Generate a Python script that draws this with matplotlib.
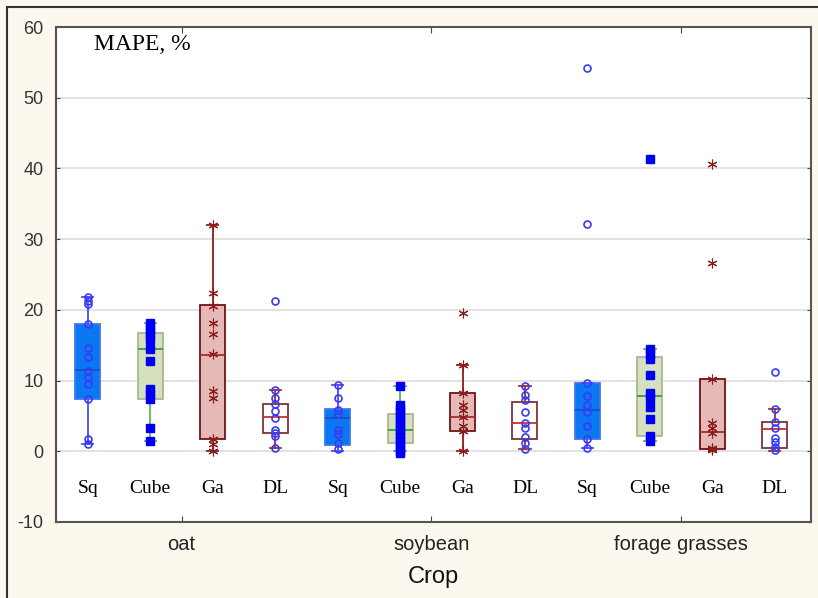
import numpy as np
import matplotlib.pyplot as plt
from matplotlib.patches import Rectangle

plt.rcParams['axes.unicode_minus'] = False

# crops and methods
crops = ['oat', 'soybean', 'forage grasses']
methods = ['Sq', 'Cube', 'Ga', 'DL']

# box stats: (whislo, q1, med, q3, whishi)
box_stats = [
    (1.1, 7.4, 11.5, 18.0, 21.8),   # oat Sq
    (1.5, 7.4, 14.5, 16.7, 18.2),   # oat Cube
    (0.0, 1.7, 13.6, 20.7, 32.0),   # oat Ga
    (0.4, 2.6, 4.8, 6.7, 8.7),      # oat DL
    (0.0, 0.9, 4.7, 6.0, 9.4),      # soybean Sq
    (0.0, 1.2, 3.0, 5.3, 9.3),      # soybean Cube
    (0.0, 2.8, 4.9, 8.3, 12.2),     # soybean Ga
    (0.3, 1.7, 4.0, 7.0, 9.3),      # soybean DL
    (0.4, 1.8, 5.8, 9.7, 9.7),      # forage Sq
    (1.5, 2.2, 7.8, 13.3, 14.5),    # forage Cube
    (0.3, 0.3, 2.7, 10.2, 10.2),    # forage Ga
    (0.1, 0.5, 3.1, 4.2, 6.0),      # forage DL
]

# individual points
points = [
    [21.8, 21.3, 20.8, 18.0, 14.6, 13.3, 11.3, 10.5, 9.5, 7.4, 1.8, 1.0],
    [18.2, 17.6, 17.0, 16.4, 15.8, 14.5, 12.8, 8.8, 8.1, 7.4, 3.3, 1.5],
    [32.0, 22.4, 20.6, 18.1, 16.6, 13.8, 8.5, 7.5, 1.8, 1.0, 0.0],
    [21.3, 8.7, 7.6, 6.7, 5.7, 4.7, 3.0, 2.6, 2.2, 0.4],
    [9.4, 7.6, 5.9, 5.3, 3.0, 2.5, 1.2, 0.3],
    [9.3, 6.5, 6.0, 5.5, 5.0, 4.5, 4.0, 3.5, 3.0, 2.5, 2.0, 1.5, 1.0, 0.5, 0.0, -0.3],
    [19.6, 12.2, 8.2, 6.6, 5.8, 4.9, 3.6, 2.8, 0.0],
    [9.3, 8.0, 7.3, 5.6, 4.0, 3.3, 2.0, 1.2, 0.3],
    [54.2, 32.2, 9.6, 7.8, 6.6, 5.6, 3.6, 1.8, 0.4],
    [41.3, 14.5, 13.8, 13.0, 10.8, 8.3, 7.5, 6.2, 4.5, 2.1, 1.5],
    [40.6, 26.6, 10.2, 4.0, 3.3, 2.6, 0.5, 0.3, 0.2],
    [11.2, 6.0, 4.1, 3.3, 1.9, 1.3, 0.6, 0.2],
]

# style per method
styles = {
    'Sq':   dict(fill='#0A78F2', edge='#3C78F0', med='#1C4FC8', whisk='#4A4AF5',
                 marker='o', mfc='none', mec='#3A3AF5', ms=5, mew=1.2),
    'Cube': dict(fill='#D6E0BE', edge='#A9B993', med='#3A9E3A', whisk='#5DB55D',
                 marker='s', mfc='#0000F5', mec='#0000F5', ms=5.5, mew=1.0),
    'Ga':   dict(fill='#E6B9B9', edge='#6E1515', med='#A82A2A', whisk='#8A1C1C',
                 marker=(6, 2, 0), mfc='#8A1C1C', mec='#8A1C1C', ms=7, mew=0.8),
    'DL':   dict(fill='white', edge='#7A3535', med='#C83030', whisk='#A03030',
                 marker='o', mfc='none', mec='#3A3AF5', ms=5, mew=1.2),
}

fig = plt.figure(figsize=(8.18, 5.98), dpi=100, facecolor='#FDF8EE')
ax = fig.add_axes([56 / 818, 1 - 522 / 598, (811 - 56) / 818, (522 - 27) / 598])

for i, st in enumerate(box_stats):
    m = methods[i % 4]
    s = styles[m]
    pos = i + 1
    stats = [dict(whislo=st[0], q1=st[1], med=st[2], q3=st[3], whishi=st[4], fliers=[])]
    ax.bxp(stats, positions=[pos], widths=0.4, patch_artist=True, showfliers=False,
           boxprops=dict(facecolor=s['fill'], edgecolor=s['edge'], linewidth=1.3),
           medianprops=dict(color=s['med'], linewidth=1.3),
           whiskerprops=dict(color=s['whisk'], linewidth=1.3),
           capprops=dict(color=s['whisk'], linewidth=1.3),
           capwidths=0.18, zorder=2)
    ys = np.array(points[i])
    ax.plot(np.full(len(ys), pos), ys, linestyle='none', marker=s['marker'],
            markerfacecolor=s['mfc'], markeredgecolor=s['mec'], markersize=s['ms'],
            markeredgewidth=s['mew'], zorder=3)
    ax.text(pos, -5.2, m, ha='center', va='center', fontsize=14,
            family='Liberation Serif', color='black')

ax.set_xlim(0.49, 12.58)
ax.set_ylim(-10, 60)
ax.set_yticks(np.arange(-10, 61, 10))
ax.set_xticks([2.5, 6.5, 10.5])
ax.set_xticklabels(crops, family='Liberation Sans', fontsize=14.5, color='#222222')
for lab in ax.get_yticklabels():
    lab.set_family('Liberation Sans')
    lab.set_fontsize(13)
    lab.set_color('#333333')
ax.tick_params(axis='y', direction='in', length=3, pad=9, right=True, color='#444444')
ax.tick_params(axis='x', direction='in', length=4, pad=9, top=True, color='#444444')
ax.grid(axis='y', color='#DDDDDD', linewidth=1.2, zorder=0)
ax.set_axisbelow(True)
for sp in ax.spines.values():
    sp.set_color('#555555')
    sp.set_linewidth(1.5)

ax.set_xlabel('Crop', family='Liberation Sans', fontsize=17, color='#111111', labelpad=9)
ax.text(0.05, 0.985, 'MAPE, %', transform=ax.transAxes, ha='left', va='top',
        fontsize=17, family='Liberation Serif')

# figure border
fig.patches.append(Rectangle((7 / 818, -0.02), 1.1, 1 - 7 / 598 + 0.02,
                             transform=fig.transFigure, fill=False,
                             edgecolor='#333333', linewidth=1.5))

fig.savefig('out.png', dpi=100, facecolor=fig.get_facecolor())
